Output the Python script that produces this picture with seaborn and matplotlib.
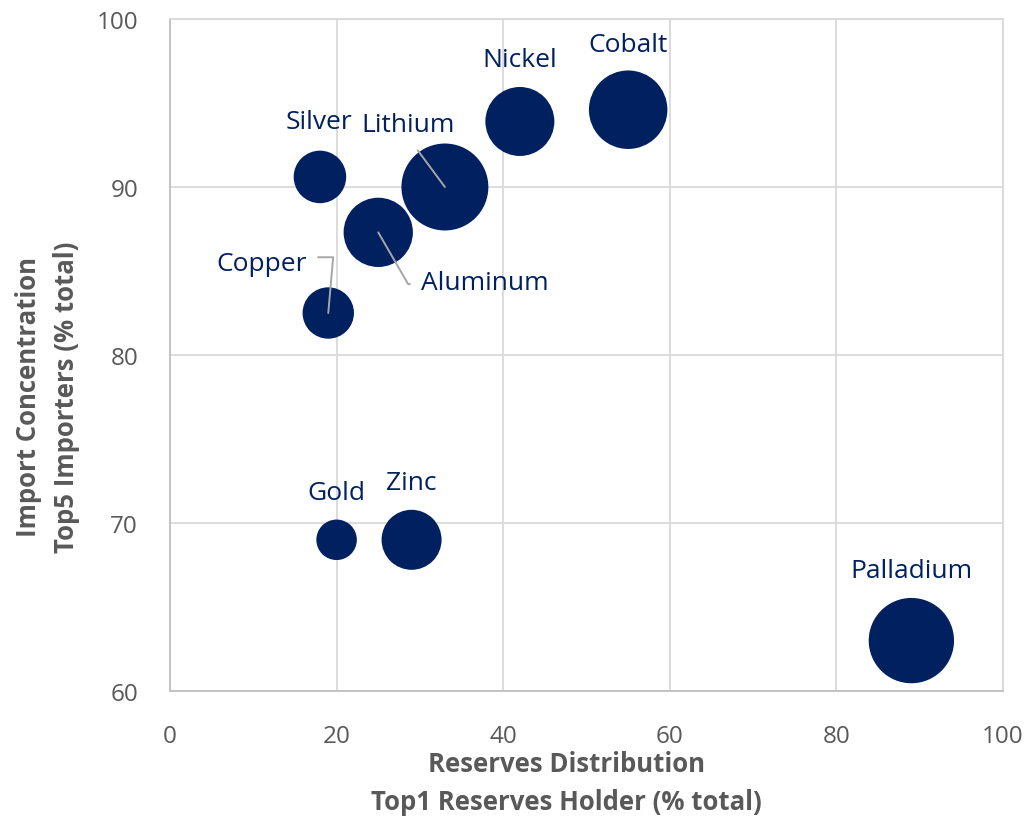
import matplotlib
matplotlib.use("Agg")
import matplotlib.pyplot as plt
import seaborn as sns
import pandas as pd

# Critical minerals: reserves concentration vs import concentration
minerals = ["Silver", "Lithium", "Aluminum", "Copper", "Nickel",
            "Cobalt", "Gold", "Zinc", "Palladium"]
top1_reserves = [18, 33, 25, 19, 42, 55, 20, 29, 89]          # % of total
top5_importers = [90.6, 90.0, 87.3, 82.5, 93.9, 94.6, 69.0, 69.0, 63.0]  # % of total
bubble_size = [6.9, 18.9, 12.0, 6.6, 11.9, 15.4, 4.1, 9.0, 18.2]

df = pd.DataFrame({"mineral": minerals, "x": top1_reserves,
                   "y": top5_importers, "size": bubble_size})

NAVY = "#002060"
GREY_TXT = "#595959"
GRID = "#D9D9D9"

sns.set_style("white")
plt.rcParams["font.family"] = ["Open Sans", "DejaVu Sans"]

fig = plt.figure(figsize=(10.25, 8.2), dpi=100)
ax = fig.add_axes([170 / 1025, 1 - 692 / 820, (1003 - 170) / 1025, (692 - 20) / 820])

sns.scatterplot(data=df, x="x", y="y", size="size", sizes=(0, 4147),
                size_norm=(0, 20), color=NAVY, linewidth=0, alpha=1,
                legend=False, ax=ax, zorder=3)

ax.set_xlim(0, 100)
ax.set_ylim(60, 100)
ax.set_xticks(range(0, 101, 20))
ax.set_yticks(range(60, 101, 10))
ax.grid(True, color=GRID, linewidth=1.3, zorder=0)
ax.set_axisbelow(True)
for side in ["top", "right"]:
    ax.spines[side].set_color(GRID)
    ax.spines[side].set_linewidth(1.3)
for side in ["left", "bottom"]:
    ax.spines[side].set_color("#BFBFBF")
    ax.spines[side].set_linewidth(1.3)
ax.tick_params(axis="both", length=0, labelsize=17.5, labelcolor=GREY_TXT)
ax.tick_params(axis="x", pad=24)
ax.tick_params(axis="y", pad=23)
ax.set_xlabel("")
ax.set_ylabel("")

# Data labels: (dx, dy) offsets in pixels of the text baseline centre from the bubble
label_offsets = {
    "Silver": (-1, 49), "Lithium": (-37, 56), "Aluminum": (107, -57),
    "Copper": (-67, 43), "Nickel": (0, 55), "Cobalt": (0, 59),
    "Gold": (0, 41), "Zinc": (0, 51), "Palladium": (0, 64),
}
leader = dict(arrowstyle="-", color="#A6A6A6", lw=1.4, shrinkB=0)

for name, xv, yv in zip(minerals, top1_reserves, top5_importers):
    dx, dy = label_offsets[name]
    kw = dict(textcoords="offset pixels", ha="center", va="baseline",
              fontsize=19, color=NAVY, zorder=5)
    if name == "Lithium":
        kw["arrowprops"] = dict(leader, relpos=(0.5, 0.0), shrinkA=9)
    elif name == "Aluminum":
        kw["arrowprops"] = dict(leader, relpos=(0.0, 0.45), shrinkA=6,
                                connectionstyle="angle,angleA=0,angleB=-60,rad=0")
    elif name == "Copper":
        kw["arrowprops"] = dict(leader, relpos=(1.0, 0.75), shrinkA=6,
                                connectionstyle="angle,angleA=0,angleB=85,rad=0")
    ax.annotate(name, xy=(xv, yv), xytext=(dx, dy), **kw)

# Axis titles
title_kw = dict(fontsize=18.5, fontweight="bold", color=GREY_TXT, ha="center", va="center")
fig.text(566 / 1025, 1 - 765 / 820, "Reserves Distribution", **title_kw)
fig.text(566 / 1025, 1 - 803 / 820, "Top1 Reserves Holder (% total)", **title_kw)
fig.text(29 / 1025, 1 - 397 / 820, "Import Concentration", rotation=90, **title_kw)
fig.text(67 / 1025, 1 - 397 / 820, "Top5 Importers (% total)", rotation=90, **title_kw)

fig.savefig("out.png", dpi=100, facecolor="white")
